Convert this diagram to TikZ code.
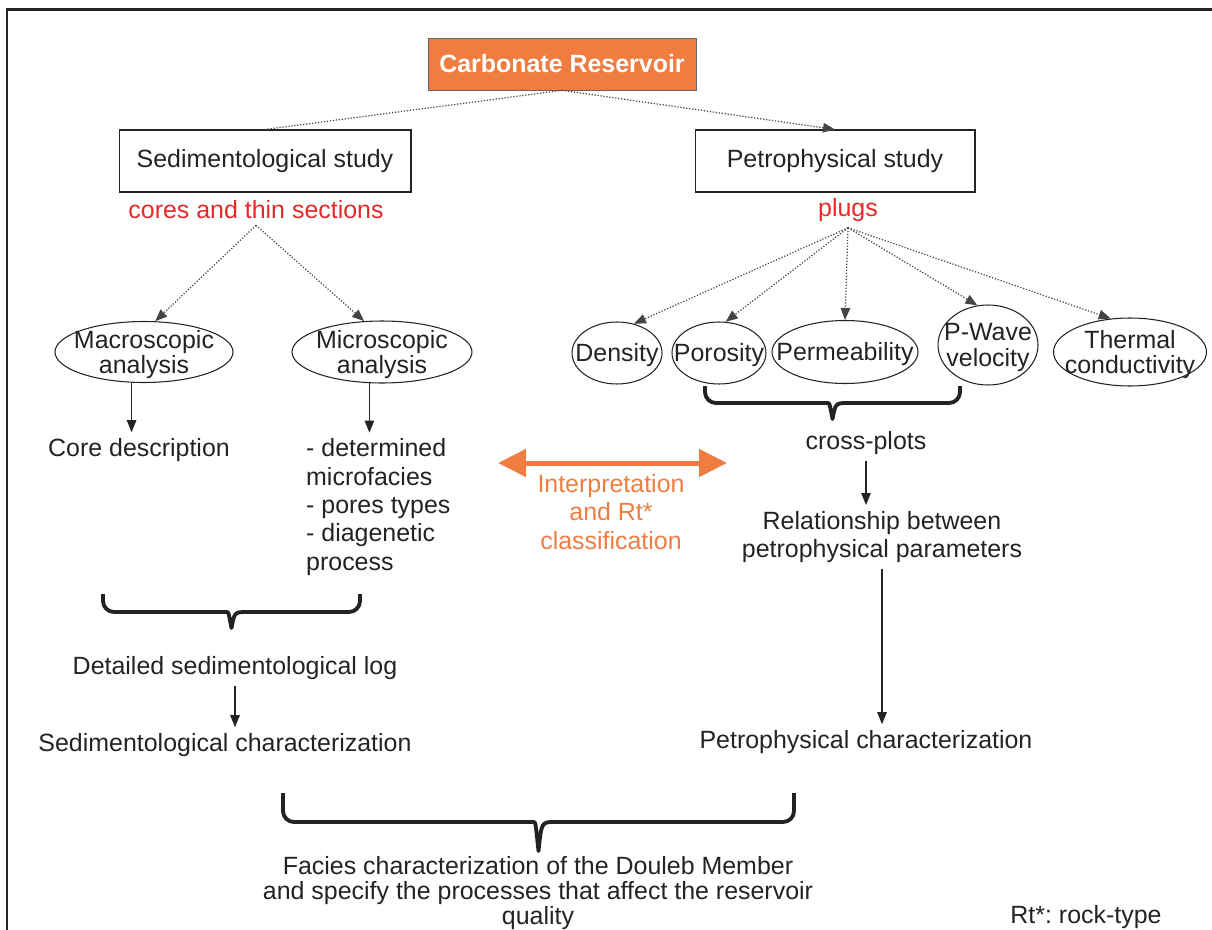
\documentclass[tikz,border=0pt]{standalone}
\usepackage{fontspec}
\setmainfont{Liberation Sans}
\usetikzlibrary{positioning, calc, arrows.meta, shapes.geometric}
\definecolor{reservoir}{RGB}{239,125,66}
\definecolor{sample}{RGB}{226,42,40}
\definecolor{ink}{RGB}{35,35,35}
\tikzset{
  every node/.style = {font = \fontsize{14.2}{16.1}\selectfont, text = ink},
  > = {Triangle[length = 2.4mm, width = 1.9mm]},
  outline/.style = {draw = ink, line width = 0.06cm},
  headline/.style = {draw = ink!70, fill = reservoir, text = white, 
    font = \fontsize{14.2}{16.1}\selectfont\bfseries, 
    minimum width = 5.36cm, minimum height = 1.04cm},
  study/.style = {draw = ink, line width = 0.6pt, 
    minimum width = 5.84cm, minimum height = 1.24cm},
  sample/.style = {text = sample},
  oval/.style n args = {3}{draw = ink, line width = 0.6pt, ellipse, inner sep = 0,
    minimum width = #1, minimum height = #2,
    label = {[align = center, yshift = -0.05cm, 
      font = \fontsize{14.2}{14.6}\selectfont]center:#3}},
  link/.style = {->, ink!85, densely dotted, line width = 0.7pt},
  flow/.style = {->, draw = ink, line width = 0.6pt},
  merge/.style = {draw = ink, line width = 2.2pt, line join = round},
  exchange/.style = {<->, draw = reservoir, line width = 0.1cm,
    > = {Triangle[length = 5.6mm, width = 5.4mm]}}
}
% curly bracket under a group: west end, east end, drop to bar, drop to tip
\newcommand{\grouping}[4]{%
  \draw [merge] (#1) [rounded corners = 0.22cm] -- ($ (#1) + (0,#3) $)
    -- ($ (#1)!0.5!(#2) + (-16,#3) $) [sharp corners]
    .. controls ($ (#1)!0.5!(#2) + (-3,#3) $) .. ($ (#1)!0.5!(#2) + (0,#4) $)
    .. controls ($ (#1)!0.5!(#2) + (3,#3) $) .. ($ (#1)!0.5!(#2) + (16,#3) $)
    [rounded corners = 0.22cm] -- ($ (#2) + (0,#3) $) -- (#2);}

\begin{document}
\begin{tikzpicture}[x = 0.02cm, y = -0.02cm]
\useasboundingbox (0,0) rectangle (1212,929);

%% Frame
\draw [outline] (7,10) rectangle (1230,960);

%% Studies
\node [headline] (reservoir) at (562,64) {Carbonate Reservoir};
\node [study] (sed) at (265,161) {Sedimentological study};
\node [study, minimum width = 5.6cm] (pet) at (835,161) {Petrophysical study};
\node [sample] (cores) at (256,210) {cores and thin sections};
\node [sample] (plugs) at (848,210) {plugs};

\draw [link, -] (reservoir.south) -- (sed.north);
\draw [link] (reservoir.south) -- (pet.north);

%% Sedimentological branch
\node [oval = {3.56cm}{1.22cm}{Macroscopic\\analysis}] (macro) at (144,352) {};
\node [oval = {3.6cm}{1.24cm}{Microscopic\\analysis}] (micro) at (382,352) {};
\node (core) at (139,450) {Core description};
\node [align = left, anchor = west] (facies) at (300,507) 
  {- determined\\microfacies\\- pores types\\- diagenetic\\process};
\node (log) at (235,668) {Detailed sedimentological log};
\node (sedchar) at (225,745) {Sedimentological characterization};

\path [link] (cores.south) edge (macro.70)
                           edge (micro.120);
\draw [flow] (macro.248) -- (macro.248 |- core.north);
\draw [flow] (micro.248) -- (micro.248 |- facies.north);
\draw [flow] (log.south) -- (log.south |- sedchar.north);

\coordinate (sed-w) at (103,594);
\coordinate (sed-e) at (360,594);
\grouping{sed-w}{sed-e}{18}{34}

%% Petrophysical branch
\node [oval = {1.8cm}{1.24cm}{Density}] (dens) at (617,353) {};
\node [oval = {1.88cm}{1.24cm}{Porosity}] (poro) at (719,353) {};
\node [oval = {2.92cm}{1.26cm}{Permeability}] (perm) at (845,352) {};
\node [oval = {2cm}{1.6cm}{P-Wave\\velocity}] (pwave) at (988,345) {};
\node [oval = {3.06cm}{1.36cm}{Thermal\\conductivity}] (therm) at (1130,352) {};
\node (cross) at (866,443) {cross-plots};
\node [align = center] (rel) at (882,537) {Relationship between\\petrophysical parameters};
\node (petchar) at (866,742) {Petrophysical characterization};

\path [link] (plugs.south) edge (dens.60)
                           edge (poro.78)
                           edge (perm.north)
                           edge (pwave.105)
                           edge (therm.120);
\draw [flow] (cross.south) -- (cross.south |- rel.north);
\draw [flow] (rel.south) -- (rel.south |- petchar.north);

\coordinate (pet-w) at (705,386);
\coordinate (pet-e) at (960,386);
\grouping{pet-w}{pet-e}{17}{33}

%% Interpretation
\node [align = center, text = reservoir] (interp) at (611,512) 
  {Interpretation\\and Rt*\\classification};
\coordinate (interp-w) at (498,463);
\coordinate (interp-e) at (727,463);
\draw [exchange] (interp-w) -- (interp-e);

%% Synthesis
\coordinate (all-w) at (283,793);
\coordinate (all-e) at (794,793);
\grouping{all-w}{all-e}{29}{58}
\node [align = center, font = \fontsize{14.2}{14.2}\selectfont] (facieschar) at (538,893) 
  {Facies characterization of the Douleb Member\\and specify the processes that affect the reservoir\\quality};
\node (note) at (1086,917) {Rt*:\ rock-type};

\end{tikzpicture}
\end{document}
